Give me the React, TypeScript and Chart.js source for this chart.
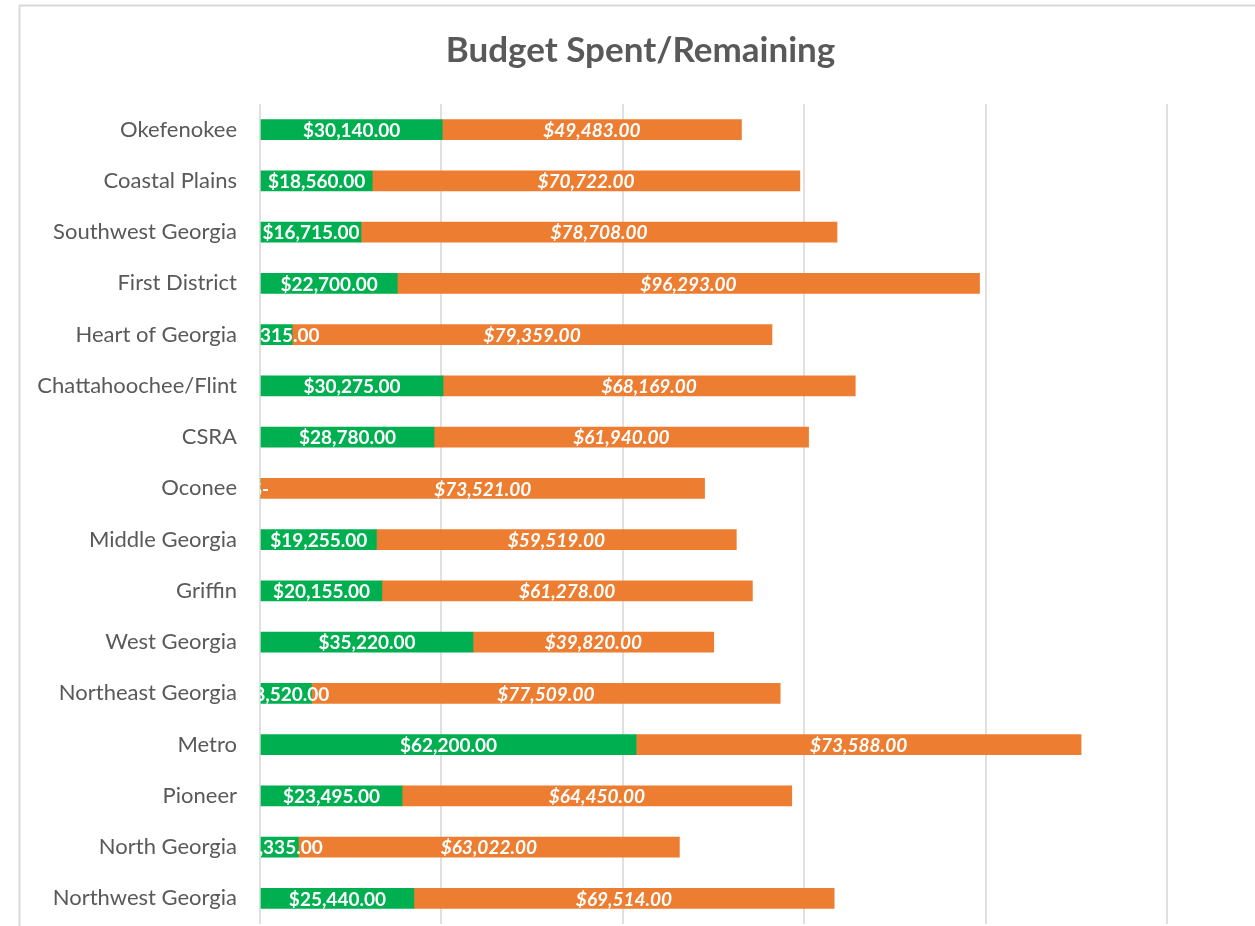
import { useEffect, useRef } from 'react';
import { Chart, registerables } from 'chart.js';
Chart.register(...registerables);

const categories = [
  'Okefenokee', 'Coastal Plains', 'Southwest Georgia', 'First District', 'Heart of Georgia',
  'Chattahoochee/Flint', 'CSRA', 'Oconee', 'Middle Georgia', 'Griffin', 'West Georgia',
  'Northeast Georgia', 'Metro', 'Pioneer', 'North Georgia', 'Northwest Georgia',
];
const spent = [30140, 18560, 16715, 22700, 5315, 30275, 28780, 0, 19255, 20155, 35220, 8520, 62200, 23495, 6335, 25440];
const remaining = [49483, 70722, 78708, 96293, 79359, 68169, 61940, 73521, 59519, 61278, 39820, 77509, 73588, 64450, 63022, 69514];
const chartTitle = 'Budget Spent/Remaining';
const xTicks = [0, 30000, 60000, 90000, 120000, 150000];
const xMin = 0;
const xMax = 164550;

const FONT = 'Lato, "Open Sans", sans-serif';
const TEXT = '#595959';

function fmt(v: number): string {
  if (v === 0) return '$-';
  const s = v.toFixed(2);
  const [i, d] = s.split('.');
  return '$' + i.replace(/\B(?=(\d{3})+(?!\d))/g, ',') + '.' + d;
}

const borderPlugin = {
  id: 'outerBorder',
  beforeDraw(chart: any) {
    const ctx = chart.ctx;
    ctx.save();
    ctx.strokeStyle = '#d9d9d9';
    ctx.lineWidth = 2;
    ctx.beginPath();
    ctx.moveTo(19.5, chart.height + 5);
    ctx.lineTo(19.5, 5.5);
    ctx.lineTo(chart.width + 5, 5.5);
    ctx.stroke();
    ctx.restore();
  },
};

const labelPlugin = {
  id: 'barLabels',
  afterDatasetsDraw(chart: any) {
    const ctx = chart.ctx;
    const a = chart.chartArea;
    ctx.save();
    ctx.beginPath();
    ctx.rect(a.left, a.top, a.right - a.left, a.bottom - a.top);
    ctx.clip();
    ctx.fillStyle = '#ffffff';
    ctx.textAlign = 'center';
    ctx.textBaseline = 'middle';
    chart.data.datasets.forEach((ds: any, i: number) => {
      const meta = chart.getDatasetMeta(i);
      ctx.font = (i === 1 ? 'italic ' : '') + 'bold 19px ' + FONT;
      meta.data.forEach((bar: any, j: number) => {
        const p = bar.getProps(['x', 'y', 'base'], true);
        ctx.fillText(fmt(ds.data[j]), (p.x + p.base) / 2, p.y + 1);
      });
    });
    ctx.restore();
  },
};

export default function App() {
  const ref = useRef<HTMLCanvasElement>(null);
  useEffect(() => {
    document.documentElement.style.overflow = 'hidden';
    document.body.style.margin = '0';
    const chart = new Chart(ref.current!, {
      type: 'bar',
      data: {
        labels: categories,
        datasets: [
          { label: 'Spent', data: spent, backgroundColor: '#00B050', barThickness: 20 },
          { label: 'Remaining', data: remaining, backgroundColor: '#ED7D31', barThickness: 20 },
        ],
      },
      options: {
        indexAxis: 'y',
        responsive: false,
        animation: false,
        layout: { padding: { left: 26, right: 0, top: 0, bottom: 2 } },
        plugins: {
          legend: { display: false },
          tooltip: { enabled: false },
          title: {
            display: true,
            text: chartTitle,
            color: TEXT,
            font: { family: FONT, size: 35, weight: 'bold', lineHeight: 1.2 },
            padding: { top: 30, bottom: 32 },
          },
        },
        scales: {
          x: {
            type: 'linear',
            stacked: true,
            min: xMin,
            max: xMax,
            afterBuildTicks: (s: any) => {
              s.ticks = xTicks.map((v) => ({ value: v }));
            },
            ticks: { display: false },
            grid: { drawTicks: false, lineWidth: 2, color: '#e0e0e0' },
            border: { display: false },
          },
          y: {
            stacked: true,
            grid: { display: false, drawTicks: false },
            border: { display: false },
            ticks: { color: TEXT, font: { family: FONT, size: 22 }, padding: 23 },
            afterFit: (s: any) => {
              s.width = 234;
              s.paddingTop = 0;
              s.paddingBottom = 0;
            },
          },
        },
      },
      plugins: [borderPlugin, labelPlugin],
    } as any);
    return () => chart.destroy();
  }, []);
  return (
    <div style={{ position: 'absolute', left: 0, top: 0, width: 1255, height: 926 }}>
      <canvas ref={ref} width={1255} height={926} style={{ display: 'block' }} />
    </div>
  );
}
